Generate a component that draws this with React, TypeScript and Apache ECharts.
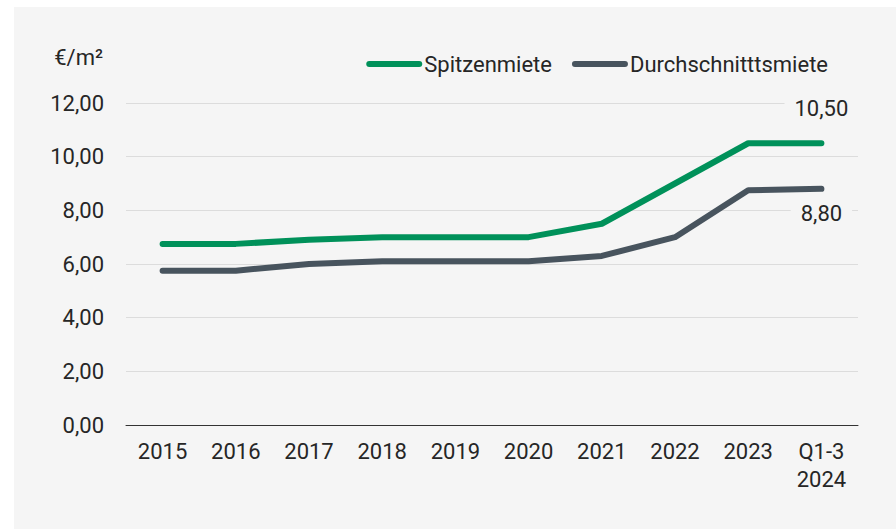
import React, { useEffect, useRef } from "react";
import * as echarts from "echarts";

const categories = ["2015", "2016", "2017", "2018", "2019", "2020", "2021", "2022", "2023", "Q1-3\n2024"];
const spitzenmiete = [6.75, 6.75, 6.9, 7.0, 7.0, 7.0, 7.5, 9.0, 10.5, 10.5];
const durchschnitt = [5.75, 5.75, 6.0, 6.1, 6.1, 6.1, 6.3, 7.0, 8.75, 8.8];
const seriesNames = ["Spitzenmiete", "Durchschnitttsmiete"];
const yTicks = { min: 0, max: 12, interval: 2 };
const unitLabel = "€/m²";

const GREEN = "#00915a";
const GREY = "#48545e";
const BG = "#f5f5f5";
const TXT = "#262626";
const FONT = "Roboto";

const fmt = (v: number) => v.toFixed(2).replace(".", ",");

export default function App() {
  const ref = useRef<HTMLDivElement>(null);
  useEffect(() => {
    if (!ref.current) return;
    const chart = echarts.init(ref.current, null, { renderer: "svg" });
    const mkData = (arr: number[], pos: "top" | "bottom", dist: number) =>
      arr.map((v, i) =>
        i === arr.length - 1
          ? {
              value: v,
              label: {
                show: true,
                position: pos,
                distance: dist,
                formatter: (p: any) => fmt(p.value),
                fontFamily: FONT,
                fontSize: 22,
                color: TXT,
                backgroundColor: BG,
                padding: [2, 10],
              },
            }
          : v
      );
    const legendIcon = "path://M3,0 H53 A3,3 0 0 1 53,6 H3 A3,3 0 0 1 3,0 Z";
    chart.setOption({
      animation: false,
      backgroundColor: BG,
      textStyle: { fontFamily: FONT },
      grid: { left: 112, right: 38, top: 96, bottom: 104 },
      legend: {
        right: 63,
        top: 41,
        itemWidth: 56,
        itemHeight: 6,
        itemGap: 20,
        icon: legendIcon,
        textStyle: { fontFamily: FONT, fontSize: 22, color: TXT, padding: [0, 0, 0, -3] },
        data: seriesNames,
      },
      graphic: [
        {
          type: "text",
          right: 882 - 89,
          top: 39,
          style: { text: unitLabel, fontFamily: FONT, fontSize: 22, fill: TXT },
        },
      ],
      xAxis: {
        type: "category",
        data: categories,
        boundaryGap: true,
        axisLine: { lineStyle: { color: "#333", width: 1 } },
        axisTick: { show: false },
        axisLabel: { fontFamily: FONT, fontSize: 22, color: TXT, margin: 12, lineHeight: 28, interval: 0 },
      },
      yAxis: {
        type: "value",
        min: yTicks.min,
        max: yTicks.max,
        interval: yTicks.interval,
        axisLine: { show: false },
        axisTick: { show: false },
        splitLine: { lineStyle: { color: "#dcdcdc", width: 1 } },
        axisLabel: { fontFamily: FONT, fontSize: 22, color: TXT, margin: 22, formatter: (v: number) => fmt(v) },
      },
      series: [
        {
          name: seriesNames[0],
          type: "line",
          data: mkData(spitzenmiete, "top", 22),
          symbol: "circle",
          symbolSize: 0.1,
          showSymbol: true,
          itemStyle: { color: GREEN },
          lineStyle: { color: GREEN, width: 6, cap: "round", join: "round" },
          z: 3,
        },
        {
          name: seriesNames[1],
          type: "line",
          data: mkData(durchschnitt, "bottom", 12),
          symbol: "circle",
          symbolSize: 0.1,
          showSymbol: true,
          itemStyle: { color: GREY },
          lineStyle: { color: GREY, width: 6, cap: "round", join: "round" },
          z: 3,
        },
      ],
    });
    return () => chart.dispose();
  }, []);
  return (
    <div style={{ position: "absolute", left: 0, top: 0, width: 896, height: 529, background: "#ffffff" }}>
      <div ref={ref} style={{ position: "absolute", left: 14, top: 7, width: 882, height: 522 }} />
    </div>
  );
}
